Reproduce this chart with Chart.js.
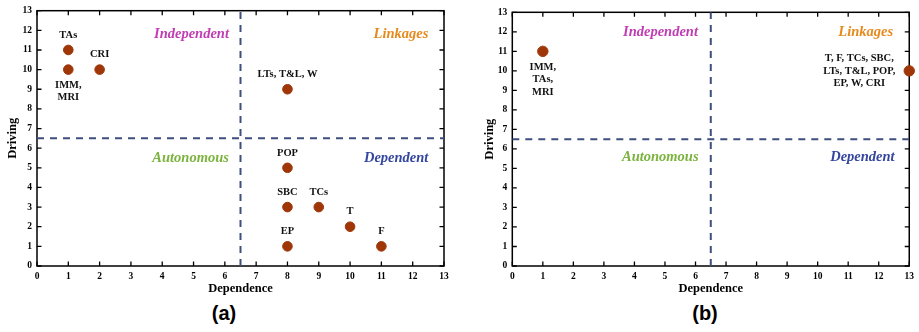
<!DOCTYPE html>
<html>
<head>
<meta charset="utf-8">
<script src="https://cdn.jsdelivr.net/npm/chart.js@4/dist/chart.umd.min.js"></script>
<style>
    body { margin: 0; background: #fff; width: 919px; height: 332px; position: relative; overflow: hidden; }
    .panel { position: absolute; top: 0; }
    .cap { position: absolute; top: 302px; height: 30px; line-height: 30px; text-align: center;
           font: bold 20px "Liberation Sans", Arial, sans-serif; color: #000; }
</style>
</head>
<body>
<div class="panel" style="left:0;"><canvas id="chartA" width="455" height="300"></canvas></div>
<div class="panel" style="left:460px;"><canvas id="chartB" width="459" height="300"></canvas></div>
<div class="cap" style="left:0;width:448px;">(a)</div>
<div class="cap" style="left:460px;width:490px;">(b)</div>
<script>
// data
const elementsA = ['TAs', 'IMM,\nMRI', 'CRI', 'LTs, T&L, W', 'POP', 'SBC', 'TCs', 'T', 'EP', 'F'];
const dependenceA = [1, 1, 2, 8, 8, 8, 9, 10, 8, 11];
const drivingA = [11, 10, 10, 9, 5, 3, 3, 2, 1, 1];

const elementsB = ['IMM,\nTAs,\nMRI', 'T, F, TCs, SBC,\nLTs, T&L, POP,\nEP, W, CRI'];
const dependenceB = [1, 13];
const drivingB = [11, 10];

const quadrantNames = ['Independent', 'Linkages', 'Autonomous', 'Dependent'];
const threshold = 6.5;
const axisMax = 13;

// where each label sits relative to its point
const placeA = ['above', 'below', 'above', 'above', 'above', 'above', 'above', 'above', 'above', 'above'];
const placeB = ['below', 'left'];

const SERIF = '"Liberation Serif", "Times New Roman", serif';
const quadColors = ['#C03DB3', '#E68A1E', '#7CB33F', '#3446A0'];

const decorPlugin = {
    id: 'decor',
    beforeDatasetsDraw(chart) {
        const { ctx, chartArea: a, scales: { x, y } } = chart;
        ctx.save();
        ctx.strokeStyle = '#000';
        ctx.lineWidth = 1.5;
        ctx.strokeRect(a.left, a.top, a.right - a.left, a.bottom - a.top);
        // inward ticks on all four sides
        ctx.lineWidth = 1.3;
        ctx.beginPath();
        x.ticks.forEach(t => {
            const px = x.getPixelForValue(t.value);
            ctx.moveTo(px, a.bottom); ctx.lineTo(px, a.bottom - 4.5);
            ctx.moveTo(px, a.top); ctx.lineTo(px, a.top + 4.5);
        });
        y.ticks.forEach(t => {
            const py = y.getPixelForValue(t.value);
            ctx.moveTo(a.left, py); ctx.lineTo(a.left + 4.5, py);
            ctx.moveTo(a.right, py); ctx.lineTo(a.right - 4.5, py);
        });
        ctx.stroke();
        ctx.restore();
    },
    afterDatasetsDraw(chart, args, opts) {
        const { ctx, scales: { x, y } } = chart;
        ctx.save();
        // quadrant names, right aligned
        ctx.font = 'bold italic 14.5px ' + SERIF;
        ctx.textAlign = 'right';
        ctx.textBaseline = 'middle';
        quadrantNames.forEach((name, i) => {
            const p = opts.quadPos[i];
            ctx.fillStyle = quadColors[i];
            ctx.fillText(name, x.getPixelForValue(p[0]), y.getPixelForValue(p[1]));
        });
        // point labels
        ctx.font = 'bold 10.5px ' + SERIF;
        ctx.fillStyle = '#111';
        ctx.textAlign = 'center';
        const lh = 12.5;
        opts.labels.forEach((txt, i) => {
            const lines = txt.split('\n');
            const px = x.getPixelForValue(opts.xs[i]);
            const py = y.getPixelForValue(opts.ys[i]);
            const where = opts.place[i];
            lines.forEach((ln, k) => {
                let lx = px, ly;
                if (where === 'above') ly = py - 15 - (lines.length - 1 - k) * lh;
                else if (where === 'below') ly = py + 15.5 + k * lh;
                else { lx = px - 50; ly = py + (k - (lines.length - 1) / 2) * lh; }
                ctx.fillText(ln, lx, ly);
            });
        });
        ctx.restore();
    }
};

function makeChart(id, xs, ys, labels, place, cfg) {
    const points = xs.map((v, i) => ({ x: v, y: ys[i] }));
    const dashStyle = {
        showLine: true, pointRadius: 0, borderColor: '#3E4F7E', borderWidth: 2,
        borderDash: [7, 6], fill: false
    };
    const tickFont = { family: SERIF, size: 9.5, weight: 'bold' };
    const titleFont = { family: SERIF, size: 12.5, weight: 'bold' };
    return new Chart(document.getElementById(id), {
        type: 'scatter',
        data: {
            datasets: [
                {
                    data: points, backgroundColor: '#9E3607', borderColor: '#9E3607',
                    pointRadius: cfg.radius, clip: false
                },
                Object.assign({ data: [{ x: 0, y: threshold }, { x: axisMax, y: threshold }] }, dashStyle),
                Object.assign({ data: [{ x: threshold, y: 0 }, { x: threshold, y: axisMax }] }, dashStyle)
            ]
        },
        options: {
            responsive: false,
            animation: false,
            layout: { padding: cfg.padding },
            plugins: {
                legend: { display: false },
                tooltip: { enabled: false },
                decor: { labels: labels, xs: xs, ys: ys, place: place, quadPos: cfg.quadPos }
            },
            scales: {
                x: {
                    type: 'linear', min: 0, max: axisMax,
                    grid: { display: false, drawTicks: false }, border: { display: false },
                    ticks: { stepSize: 1, padding: 5, color: '#000', font: tickFont },
                    title: { display: true, text: 'Dependence', color: '#000',
                             font: titleFont, padding: { top: 0, bottom: 3.5 } },
                    afterFit: s => { s.height = 34; }
                },
                y: {
                    type: 'linear', min: 0, max: axisMax,
                    grid: { display: false, drawTicks: false }, border: { display: false },
                    ticks: { stepSize: 1, padding: 5, color: '#000', font: tickFont },
                    title: { display: true, text: 'Driving', color: '#000',
                             font: titleFont, padding: { top: cfg.yTitlePad, bottom: 0 } },
                    afterFit: s => { s.width = cfg.yWidth; }
                }
            }
        },
        plugins: [decorPlugin]
    });
}

makeChart('chartA', dependenceA, drivingA, elementsA, placeA, {
    radius: 4.8,
    padding: { left: 0, right: 11, top: 9.5, bottom: 0 },
    yWidth: 37,
    yTitlePad: 5.5,
    quadPos: [[6.13, 11.81], [12.5, 11.81], [6.13, 5.48], [12.5, 5.48]]
});

makeChart('chartB', dependenceB, drivingB, elementsB, placeB, {
    radius: 5.2,
    padding: { left: 0, right: 6.7, top: 12.3, bottom: 0 },
    yWidth: 52.3,
    yTitlePad: 22.5,
    quadPos: [[6.08, 11.98], [12.47, 11.98], [6.1, 5.55], [12.52, 5.55]]
});
</script>
</body>
</html>
